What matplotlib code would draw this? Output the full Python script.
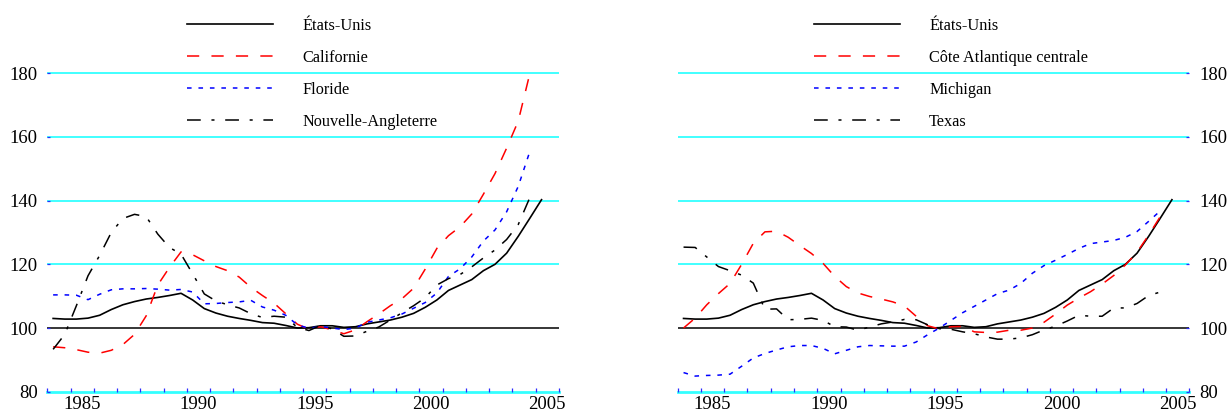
import numpy as np
import matplotlib
matplotlib.use("Agg")
import matplotlib.pyplot as plt

plt.rcParams["font.family"] = ["Liberation Serif", "DejaVu Serif"]

# Semestres (trimestre central), 1984 T2 -> 2005 T2
annees = np.arange(1984.25, 2005.5, 0.5)

etats_unis = [103.0, 102.8, 102.8, 103.1, 104.0, 105.8, 107.3, 108.3, 109.1, 109.6,
              110.2, 110.9, 108.8, 106.1, 104.7, 103.7, 103.0, 102.4, 101.7, 101.5,
              100.8, 100.0, 100.1, 100.7, 100.7, 100.2, 100.4, 101.3, 101.9, 102.5,
              103.4, 104.6, 106.5, 108.8, 111.8, 113.5, 115.2, 118.0, 120.0, 123.5,
              128.8, 134.5, 140.3]

californie = [94.1, 93.8, 93.2, 92.4, 92.1, 93.0, 94.8, 98.0, 103.8, 113.5,
              119.0, 123.9, 123.0, 121.1, 119.3, 118.0, 116.0, 112.8, 110.2, 107.8,
              104.5, 101.2, 99.6, 100.4, 99.4, 98.2, 99.4, 102.0, 104.4, 107.0,
              109.2, 112.5, 118.5, 125.0, 129.0, 131.8, 135.8, 142.0, 148.5, 156.5,
              165.0, 180.0, np.nan]

floride = [110.4, 110.4, 110.3, 108.9, 110.6, 112.0, 112.3, 112.3, 112.4, 112.2,
           111.9, 112.1, 111.3, 107.6, 107.7, 108.0, 108.2, 108.7, 106.6, 105.6,
           104.0, 101.0, 99.9, 100.5, 100.0, 99.5, 100.0, 101.8, 102.5, 103.2,
           104.4, 106.2, 108.0, 111.0, 116.2, 118.6, 122.3, 127.3, 130.8, 136.5,
           144.5, 155.5, np.nan]

nouvelle_angleterre = [93.3, 98.0, 107.0, 116.4, 122.8, 130.0, 134.4, 135.7, 135.0, 129.5,
                       125.3, 123.2, 117.0, 110.7, 108.5, 107.3, 106.3, 104.5, 103.3, 103.7,
                       103.4, 100.2, 99.2, 100.8, 99.7, 97.4, 97.5, 99.0, 100.3, 102.5,
                       104.8, 107.0, 109.5, 113.5, 115.5, 116.8, 119.2, 122.0, 124.5, 127.8,
                       132.5, 141.0, np.nan]

cote_atlantique = [100.0, 103.1, 107.3, 110.8, 114.0, 120.0, 126.6, 130.2, 130.4, 128.5,
                   125.9, 123.4, 120.3, 116.2, 113.0, 111.0, 109.9, 109.1, 108.2, 106.9,
                   103.7, 100.7, 99.7, 100.4, 100.5, 98.8, 98.6, 98.7, 99.3, 99.3,
                   100.0, 101.8, 104.4, 107.2, 109.4, 111.4, 113.8, 116.5, 119.8, 123.8,
                   129.2, 135.0, np.nan]

michigan = [86.0, 84.9, 85.1, 85.2, 85.5, 88.0, 90.6, 92.0, 93.1, 94.1,
            94.5, 94.5, 93.6, 91.9, 93.0, 94.1, 94.5, 94.4, 94.3, 94.3,
            95.6, 97.9, 100.0, 102.4, 104.8, 106.8, 108.8, 110.8, 111.9, 114.0,
            117.2, 119.6, 121.3, 123.1, 125.0, 126.5, 127.0, 127.5, 128.5, 130.3,
            133.5, 136.8, np.nan]

texas = [125.4, 125.3, 122.3, 119.3, 118.0, 116.6, 114.1, 105.9, 106.0, 102.6,
         102.7, 103.1, 102.4, 100.4, 100.3, 99.3, 100.3, 101.3, 101.9, 102.7,
         102.6, 101.0, 99.8, 99.6, 98.8, 98.2, 97.2, 96.5, 96.5, 96.9,
         97.9, 99.4, 100.6, 102.2, 104.0, 103.7, 103.7, 106.3, 106.3, 107.7,
         110.2, 111.3, np.nan]

yticks = [80, 100, 120, 140, 160, 180]
xlabels = ["1985", "1990", "1995", "2000", "2005"]

CYAN = "#33ffff"
BLEU = "#2b2bff"

STYLES = {
    "solid": dict(color="black", linestyle="-", linewidth=1.2),
    "dash": dict(color="red", linestyle=(0, (8, 8)), linewidth=1.1),
    "dot": dict(color="blue", linestyle=(0, (3, 4.5)), linewidth=1.1),
    "dashdot": dict(color="black", linestyle=(0, (9, 7, 2, 7)), linewidth=1.1),
}


def setup_axes(ax, right=False):
    ax.set_xlim(1984, 2006)
    ax.set_ylim(80, 200)
    for s in ("top", "left", "right"):
        ax.spines[s].set_visible(False)
    ax.spines["bottom"].set_color(CYAN)
    ax.spines["bottom"].set_linewidth(2.0)
    ax.spines["bottom"].set_zorder(1)

    ax.set_yticks(yticks)
    ax.set_yticklabels([str(v) for v in yticks])
    for v in yticks[1:]:
        if v == 100:
            ax.axhline(v, color="black", linewidth=1.1, zorder=1)
        else:
            ax.axhline(v, color=CYAN, linewidth=1.3, zorder=1)

    # graduations annuelles sans libellé, libellés au milieu de l'année
    ax.set_xticks(np.arange(1984, 2007, 1))
    ax.set_xticklabels([])
    ax.set_xticks([int(t) + 0.5 for t in xlabels], minor=True)
    ax.set_xticklabels(xlabels, minor=True)
    ax.tick_params(axis="x", which="major", direction="in", length=3,
                   width=0.9, color=BLEU)
    ax.tick_params(axis="x", which="minor", length=0, pad=3, labelsize=13.5)
    ax.tick_params(axis="y", direction="in", length=2, width=0.9, color=BLEU,
                   labelsize=13.5, pad=7)
    if right:
        ax.yaxis.tick_right()
        ax.tick_params(axis="y", direction="in", length=2, width=0.9,
                       color=BLEU, labelsize=13.5, pad=7)


def draw_panel(ax, series, legend_x):
    for nom, valeurs, style in series:
        ax.plot(annees, valeurs, label=nom, zorder=3, **STYLES[style])
    leg = ax.legend(loc="upper left", bbox_to_anchor=(legend_x, 0.978),
                    frameon=False, fontsize=11.7, handlelength=5.3,
                    handletextpad=1.8, labelspacing=0.98, borderpad=0,
                    borderaxespad=0)
    return leg


fig = plt.figure(figsize=(12.32, 4.12), dpi=100)
ax1 = fig.add_axes([0.0384, 0.0493, 0.4153, 0.9274])
ax2 = fig.add_axes([0.5501, 0.0493, 0.4153, 0.9274])

setup_axes(ax1)
setup_axes(ax2, right=True)

draw_panel(ax1, [
    ("États-Unis", etats_unis, "solid"),
    ("Californie", californie, "dash"),
    ("Floride", floride, "dot"),
    ("Nouvelle-Angleterre", nouvelle_angleterre, "dashdot"),
], 0.273)

draw_panel(ax2, [
    ("États-Unis", etats_unis, "solid"),
    ("Côte Atlantique centrale", cote_atlantique, "dash"),
    ("Michigan", michigan, "dot"),
    ("Texas", texas, "dashdot"),
], 0.266)

fig.savefig("out.png", dpi=100)
